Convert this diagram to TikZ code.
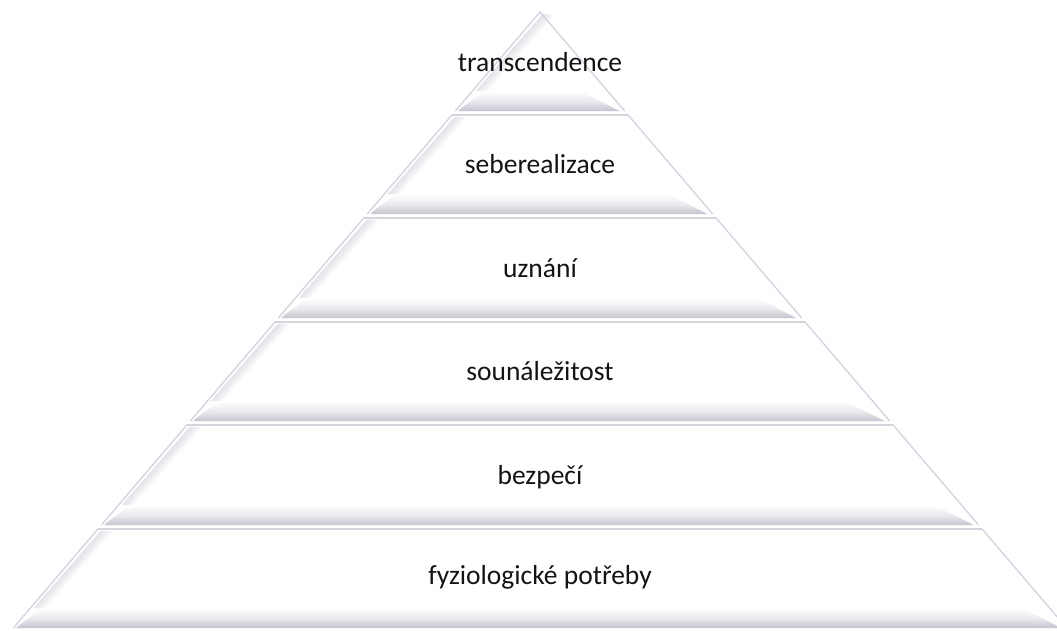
\documentclass[tikz,border=0pt]{standalone}
\usepackage{fontspec}
\setmainfont{Carlito}
\usetikzlibrary{calc}
\definecolor{edgec}{RGB}{208,212,224}
\definecolor{bandc}{RGB}{196,196,208}
\definecolor{sepc}{RGB}{212,212,220}
\begin{document}
\begin{tikzpicture}[x=1pt,y=-1pt,
  lab/.style={font=\fontsize{27.5}{30}\selectfont, text=black!92, anchor=base, inner sep=0pt},
  edgeline/.style={draw=edgec, line width=1.3pt},
  sepline/.style={draw=sepc, line width=2.2pt}]
\useasboundingbox (0,0) rectangle (1057,630);
\fill[white] (0,0) rectangle (1057,630);
\begin{scope}
\clip (0,0) rectangle (1057,630);
\foreach \t/\b in {12/111, 115/214, 218/318, 322/421, 425/525, 529/628} {
  \pgfmathsetmacro\xlt{540-0.855*(\t-12)}
  \pgfmathsetmacro\xrt{540+0.855*(\t-12)}
  \pgfmathsetmacro\xlb{540-0.855*(\b-12)}
  \pgfmathsetmacro\xrb{540+0.855*(\b-12)}
  \pgfmathsetmacro\bm{\b-20}
  \pgfmathsetmacro\xlm{540-0.855*(\bm-12)}
  \pgfmathsetmacro\xrm{540+0.855*(\bm-12)}
  % bottom bevel band
  \shade[top color=white, bottom color=bandc, middle color=bandc!35]
    (\xlm+12,\bm) -- (\xrm-28,\bm) -- (\xrb-5,\b) -- (\xlb+2,\b) -- cycle;
  % left bevel (smoothly fading lines along the left edge)
  \foreach \d in {3,...,16} {
    \pgfmathsetmacro\o{0.32*(16-\d)/13}
    \draw[bandc, opacity=\o, line width=1.1pt] (\xlt+\d,\t+2) -- (\xlm+\d,\bm);
  }
  % white highlight next to the edge
  \draw[white, line width=1.4pt] (\xlt+2,\t+1) -- (\xlb+2,\b);
  % outer slanted edges
  \draw[edgeline] (\xlb,\b) -- (\xlt,\t) -- (\xrt,\t) -- (\xrb,\b);
}
\foreach \s in {115,218,322,425,529} {
  \pgfmathsetmacro\xl{540-0.855*(\s-12)}
  \pgfmathsetmacro\xr{540+0.855*(\s-12)}
  \draw[sepline] (\xl,\s) -- (\xr,\s);
}
\end{scope}
\node[lab] (l6) at (540,71) {transcendence};
\node[lab] (l5) at (540,173) {seberealizace};
\node[lab] (l4) at (540,277) {uznání};
\node[lab] (l3) at (540,380) {sounáležitost};
\node[lab] (l2) at (540,484) {bezpečí};
\node[lab] (l1) at (540,584) {fyziologické potřeby};
\end{tikzpicture}
\end{document}
